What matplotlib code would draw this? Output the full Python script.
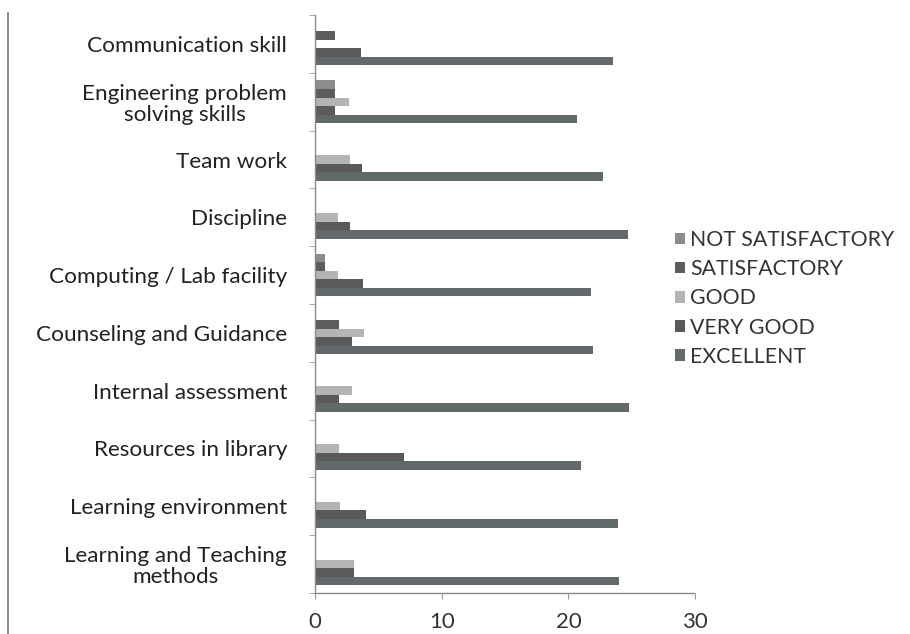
import matplotlib
matplotlib.use("Agg")
import matplotlib.pyplot as plt
import numpy as np
from matplotlib.lines import Line2D
from matplotlib.patches import Patch

plt.rcParams['font.family'] = ['Lato', 'DejaVu Sans']

# categories listed top to bottom as in the picture
categories = ['Communication skill', 'Engineering problem\nsolving skills', 'Team work',
              'Discipline', 'Computing / Lab facility', 'Counseling and Guidance',
              'Internal assessment', 'Resources in library', 'Learning environment',
              'Learning and Teaching\nmethods']
series = ['NOT SATISFACTORY', 'SATISFACTORY', 'GOOD', 'VERY GOOD', 'EXCELLENT']

not_satisfactory = [0, 1.6, 0, 0, 0.8, 0, 0, 0, 0, 0]
satisfactory = [1.6, 1.6, 0, 0, 0.8, 1.9, 0, 0, 0, 0]
good = [0, 2.7, 2.8, 1.8, 1.8, 3.9, 2.9, 1.9, 2.0, 3.1]
very_good = [3.6, 1.6, 3.7, 2.8, 3.8, 2.9, 1.9, 7.0, 4.0, 3.1]
excellent = [23.5, 20.7, 22.7, 24.7, 21.8, 21.9, 24.8, 21.0, 23.9, 24.0]

colors = ['#8c8c8c', '#5c5c5c', '#b4b4b4', '#5a5a5a', '#62696b']

fig = plt.figure(figsize=(9.10, 6.34), dpi=100)
ax = fig.add_axes([0.346, 0.065, 0.418, 0.911])

n = len(categories)
y = np.arange(n)[::-1]  # first category at top
h = 0.148
values = [not_satisfactory, satisfactory, good, very_good, excellent]
for i, (vals, c) in enumerate(zip(values, colors)):
    off = (2 - i) * h
    ax.barh(y + off, vals, height=h, color=c, edgecolor='none')

ax.set_xlim(0, 30)
ax.set_ylim(-0.5, n - 0.5)
ax.set_xticks([0, 10, 20, 30])
ax.tick_params(axis='x', labelsize=16, length=4, color='#999999', pad=10,
               labelcolor='#333333')
ax.set_yticks(y)
ax.set_yticklabels(categories, fontsize=16.2, color='#222222', multialignment='center',
                   linespacing=1.05)
ax.tick_params(axis='y', which='major', length=0, pad=20)
ax.set_yticks(np.arange(-0.5, n, 1.0), minor=True)
ax.tick_params(axis='y', which='minor', length=4, color='#999999')

for s in ['top', 'right']:
    ax.spines[s].set_visible(False)
for s in ['left', 'bottom']:
    ax.spines[s].set_color('#8a8a8a')
    ax.spines[s].set_linewidth(1.0)
    ax.spines[s].set_linestyle((0, (1, 1)))

handles = [Patch(facecolor=c, edgecolor='none') for c in colors]
fig.legend(handles, series, loc='upper left', bbox_to_anchor=(0.742, 0.637),
           frameon=False, fontsize=15.3, handlelength=0.45, handleheight=0.45,
           handletextpad=0.25, labelspacing=0.43, labelcolor='#333333',
           borderpad=0, borderaxespad=0)

# scanned page border on the left
fig.add_artist(Line2D([0.009, 0.009], [0.0, 0.98], color='#777777', lw=1.2,
                      transform=fig.transFigure))

fig.savefig('out.png', dpi=100, facecolor='white')
